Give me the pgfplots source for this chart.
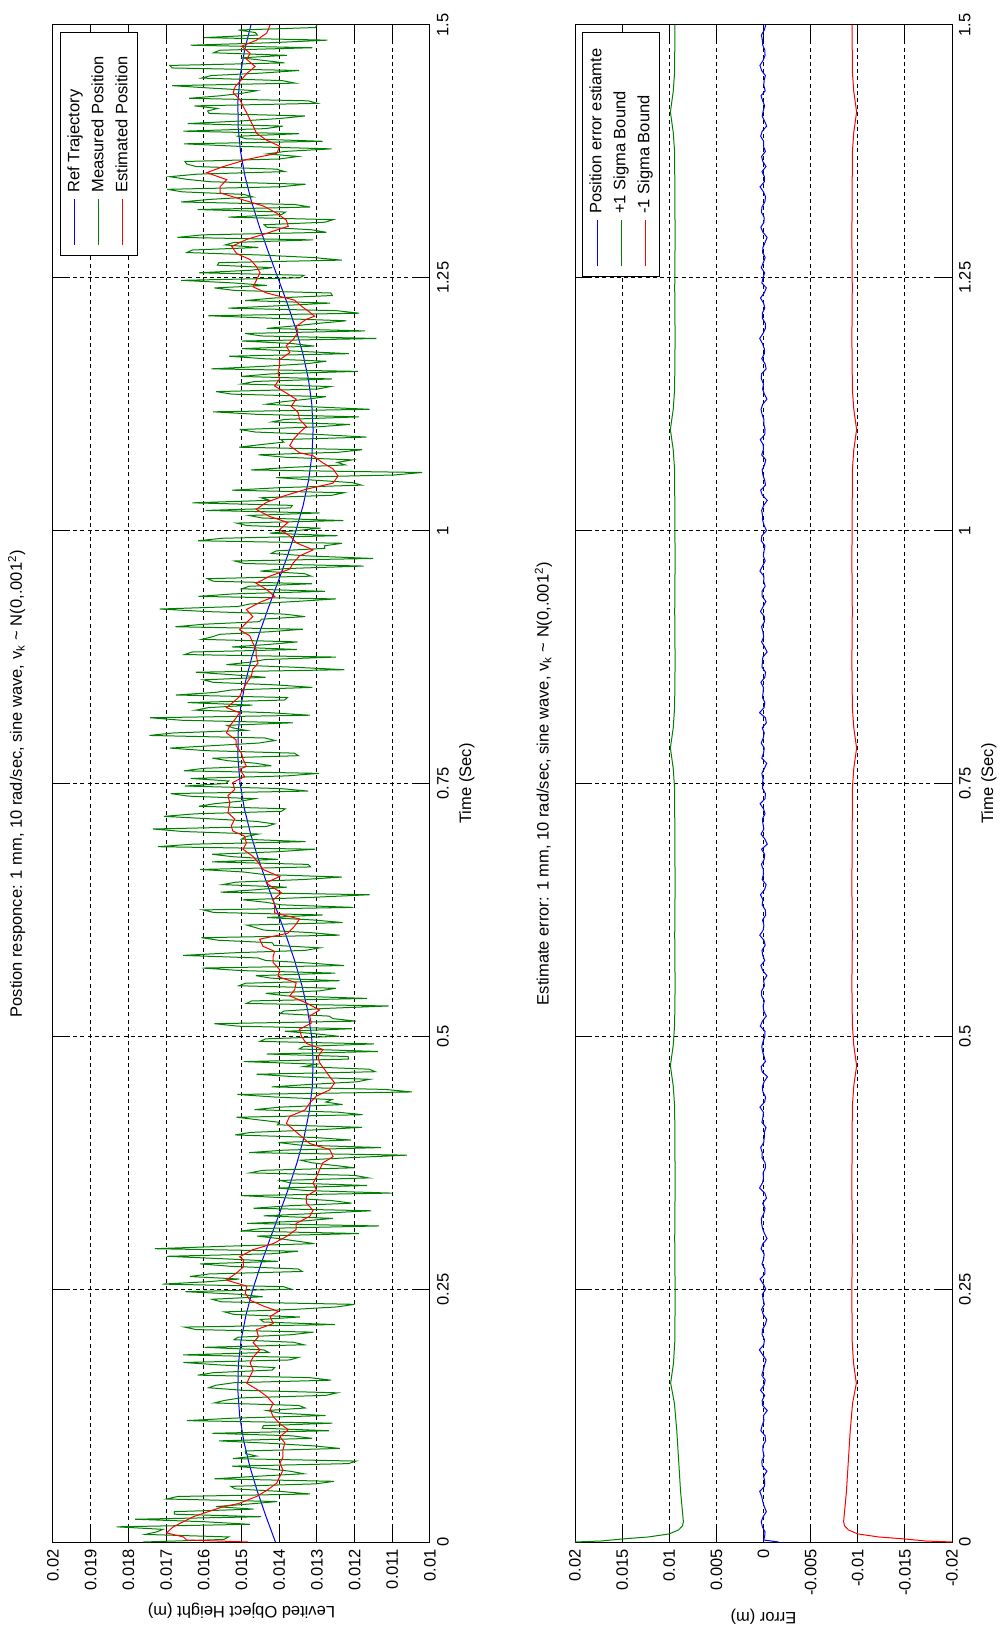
\documentclass[border=0pt]{standalone}
\usepackage{graphicx}
\usepackage{fontspec}
\setmainfont{Liberation Sans}
\usepackage{pgfplots}
\usepackage{pgfplotstable}
\pgfplotsset{compat=1.18}
\definecolor{mgreen}{rgb}{0,0.5,0}
\newcommand{\fs}{\fontsize{8.25}{9.9}\selectfont}
\pgfplotstableread{
t y
0 1760e-5
0.0025 1547e-5
0.005 1534e-5
0.0075 1755e-5
0.010 1725e-5
0.0125 1708e-5
0.015 1831e-5
0.0175 1478e-5
0.020 1595e-5
0.0225 1782e-5
0.025 1448e-5
0.0275 1678e-5
0.030 1678e-5
0.0325 1468e-5
0.035 1568e-5
0.0375 1482e-5
0.040 1405e-5
0.0425 1698e-5
0.045 1670e-5
0.0475 1318e-5
0.050 1396e-5
0.0525 1517e-5
0.055 1528e-5
0.0575 1302e-5
0.060 1255e-5
0.0625 1572e-5
0.065 1458e-5
0.0675 1335e-5
0.070 1371e-5
0.0725 1433e-5
0.075 1525e-5
0.0775 1216e-5
0.080 1196e-5
0.0825 1523e-5
0.085 1460e-5
0.0875 1490e-5
0.090 1490e-5
0.0925 1239e-5
0.095 1307e-5
0.0975 1419e-5
0.100 1560e-5
0.1025 1313e-5
0.105 1366e-5
0.1075 1577e-5
0.110 1268e-5
0.1125 1445e-5
0.115 1442e-5
0.1175 1259e-5
0.120 1645e-5
0.1225 1521e-5
0.125 1277e-5
0.1275 1400e-5
0.130 1433e-5
0.1325 1331e-5
0.135 1348e-5
0.1375 1572e-5
0.140 1545e-5
0.1425 1501e-5
0.145 1276e-5
0.1475 1246e-5
0.150 1495e-5
0.1525 1587e-5
0.155 1568e-5
0.1575 1520e-5
0.160 1262e-5
0.1625 1319e-5
0.165 1616e-5
0.1675 1573e-5
0.170 1419e-5
0.1725 1412e-5
0.175 1555e-5
0.1775 1654e-5
0.180 1372e-5
0.1825 1349e-5
0.185 1655e-5
0.1875 1428e-5
0.190 1441e-5
0.1925 1598e-5
0.195 1334e-5
0.1975 1362e-5
0.200 1520e-5
0.2025 1509e-5
0.205 1367e-5
0.2075 1309e-5
0.210 1620e-5
0.2125 1651e-5
0.215 1252e-5
0.2175 1441e-5
0.220 1450e-5
0.2225 1345e-5
0.225 1520e-5
0.2275 1545e-5
0.230 1360e-5
0.2325 1245e-5
0.235 1200e-5
0.2375 1554e-5
0.240 1578e-5
0.2425 1444e-5
0.245 1509e-5
0.2475 1649e-5
0.250 1368e-5
0.2525 1389e-5
0.255 1710e-5
0.2575 1583e-5
0.260 1506e-5
0.2625 1637e-5
0.265 1587e-5
0.2675 1339e-5
0.270 1350e-5
0.2725 1525e-5
0.275 1610e-5
0.2775 1403e-5
0.280 1545e-5
0.2825 1698e-5
0.285 1420e-5
0.2875 1350e-5
0.290 1730e-5
0.2925 1538e-5
0.295 1306e-5
0.2975 1353e-5
0.300 1400e-5
0.3025 1459e-5
0.305 1188e-5
0.3075 1502e-5
0.310 1445e-5
0.3125 1135e-5
0.315 1485e-5
0.3175 1332e-5
0.320 1258e-5
0.3225 1441e-5
0.325 1294e-5
0.3275 1156e-5
0.330 1468e-5
0.3325 1373e-5
0.335 1208e-5
0.3375 1258e-5
0.340 1368e-5
0.3425 1500e-5
0.345 1102e-5
0.3475 1328e-5
0.350 1403e-5
0.3525 1167e-5
0.355 1370e-5
0.3575 1397e-5
0.360 1163e-5
0.3625 1200e-5
0.365 1477e-5
0.3675 1444e-5
0.370 1200e-5
0.3725 1257e-5
0.375 1314e-5
0.3775 1343e-5
0.380 1212e-5
0.3825 1061e-5
0.385 1480e-5
0.3875 1385e-5
0.390 1130e-5
0.3925 1346e-5
0.395 1402e-5
0.3975 1210e-5
0.400 1308e-5
0.4025 1517e-5
0.405 1475e-5
0.4075 1303e-5
0.410 1180e-5
0.4125 1405e-5
0.415 1400e-5
0.4175 1457e-5
0.420 1513e-5
0.4225 1179e-5
0.425 1245e-5
0.4275 1466e-5
0.430 1397e-5
0.4325 1232e-5
0.435 1276e-5
0.4375 1260e-5
0.440 1413e-5
0.4425 1511e-5
0.445 1048e-5
0.4475 1119e-5
0.450 1420e-5
0.4525 1317e-5
0.455 1194e-5
0.4575 1160e-5
0.460 1355e-5
0.4625 1460e-5
0.465 1145e-5
0.4675 1161e-5
0.470 1336e-5
0.4725 1300e-5
0.475 1494e-5
0.4775 1216e-5
0.480 1217e-5
0.4825 1433e-5
0.485 1138e-5
0.4875 1347e-5
0.490 1335e-5
0.4925 1148e-5
0.495 1451e-5
0.4975 1436e-5
0.500 1241e-5
0.5025 1303e-5
0.505 1385e-5
0.5075 1207e-5
0.510 1508e-5
0.5125 1572e-5
0.515 1196e-5
0.5175 1257e-5
0.520 1268e-5
0.5225 1398e-5
0.525 1388e-5
0.5275 1284e-5
0.530 1110e-5
0.5325 1487e-5
0.535 1473e-5
0.5375 1167e-5
0.540 1380e-5
0.5425 1436e-5
0.545 1292e-5
0.5475 1250e-5
0.550 1507e-5
0.5525 1489e-5
0.555 1240e-5
0.5575 1421e-5
0.560 1462e-5
0.5625 1251e-5
0.565 1500e-5
0.5675 1604e-5
0.570 1228e-5
0.5725 1322e-5
0.575 1436e-5
0.5775 1456e-5
0.580 1655e-5
0.5825 1528e-5
0.585 1330e-5
0.5875 1292e-5
0.590 1414e-5
0.5925 1418e-5
0.595 1561e-5
0.5975 1606e-5
0.600 1240e-5
0.6025 1315e-5
0.605 1440e-5
0.6075 1463e-5
0.610 1486e-5
0.6125 1232e-5
0.615 1308e-5
0.6175 1432e-5
0.620 1285e-5
0.6225 1574e-5
0.625 1602e-5
0.6275 1203e-5
0.630 1393e-5
0.6325 1435e-5
0.635 1496e-5
0.6375 1308e-5
0.640 1160e-5
0.6425 1555e-5
0.645 1460e-5
0.6475 1380e-5
0.650 1550e-5
0.6525 1514e-5
0.655 1338e-5
0.6575 1234e-5
0.660 1440e-5
0.6625 1495e-5
0.665 1610e-5
0.6675 1317e-5
0.670 1323e-5
0.6725 1578e-5
0.675 1403e-5
0.6775 1521e-5
0.680 1578e-5
0.6825 1407e-5
0.685 1305e-5
0.6875 1722e-5
0.690 1629e-5
0.6925 1330e-5
0.695 1500e-5
0.6975 1488e-5
0.700 1455e-5
0.7025 1655e-5
0.705 1735e-5
0.7075 1434e-5
0.710 1412e-5
0.7125 1460e-5
0.715 1578e-5
0.7175 1706e-5
0.720 1623e-5
0.7225 1394e-5
0.725 1384e-5
0.7275 1613e-5
0.730 1571e-5
0.7325 1503e-5
0.735 1464e-5
0.7375 1641e-5
0.740 1688e-5
0.7425 1323e-5
0.745 1398e-5
0.7475 1650e-5
0.750 1542e-5
0.7525 1534e-5
0.755 1635e-5
0.7575 1380e-5
0.760 1295e-5
0.7625 1653e-5
0.765 1600e-5
0.7675 1421e-5
0.770 1462e-5
0.7725 1535e-5
0.775 1577e-5
0.7775 1349e-5
0.780 1360e-5
0.7825 1595e-5
0.785 1690e-5
0.7875 1572e-5
0.790 1454e-5
0.7925 1411e-5
0.795 1438e-5
0.7975 1744e-5
0.800 1680e-5
0.8025 1487e-5
0.805 1523e-5
0.8075 1539e-5
0.810 1364e-5
0.8125 1658e-5
0.815 1742e-5
0.8175 1319e-5
0.820 1425e-5
0.8225 1622e-5
0.825 1588e-5
0.8275 1471e-5
0.830 1643e-5
0.8325 1386e-5
0.835 1378e-5
0.8375 1674e-5
0.840 1570e-5
0.8425 1526e-5
0.845 1312e-5
0.8475 1409e-5
0.850 1575e-5
0.8525 1601e-5
0.855 1436e-5
0.8575 1524e-5
0.860 1621e-5
0.8625 1227e-5
0.865 1362e-5
0.8675 1540e-5
0.870 1477e-5
0.8725 1439e-5
0.875 1250e-5
0.8775 1651e-5
0.880 1631e-5
0.8825 1353e-5
0.885 1525e-5
0.8875 1428e-5
0.890 1351e-5
0.8925 1605e-5
0.895 1578e-5
0.8975 1558e-5
0.900 1428e-5
0.9025 1337e-5
0.905 1675e-5
0.9075 1599e-5
0.910 1452e-5
0.9125 1447e-5
0.915 1331e-5
0.9175 1387e-5
0.920 1593e-5
0.9225 1717e-5
0.925 1510e-5
0.9275 1478e-5
0.930 1355e-5
0.9325 1250e-5
0.935 1614e-5
0.9375 1521e-5
0.940 1278e-5
0.9425 1499e-5
0.945 1480e-5
0.9475 1313e-5
0.950 1575e-5
0.9525 1590e-5
0.955 1315e-5
0.9575 1333e-5
0.960 1450e-5
0.9625 1383e-5
0.965 1176e-5
0.9675 1492e-5
0.970 1518e-5
0.9725 1151e-5
0.975 1324e-5
0.9775 1421e-5
0.980 1408e-5
0.9825 1279e-5
0.985 1280e-5
0.9875 1233e-5
0.990 1615e-5
0.9925 1550e-5
0.995 1245e-5
0.9975 1425e-5
1.000 1355e-5
1.0025 1290e-5
1.005 1485e-5
1.0075 1513e-5
1.010 1230e-5
1.0125 1445e-5
1.015 1480e-5
1.0175 1293e-5
1.020 1595e-5
1.0225 1370e-5
1.025 1365e-5
1.0275 1630e-5
1.030 1425e-5
1.0325 1448e-5
1.035 1260e-5
1.0375 1228e-5
1.040 1525e-5
1.0425 1399e-5
1.045 1182e-5
1.0475 1206e-5
1.050 1310e-5
1.0525 1408e-5
1.055 1096e-5
1.0575 1021e-5
1.060 1475e-5
1.0625 1375e-5
1.065 1225e-5
1.0675 1246e-5
1.070 1206e-5
1.0725 1381e-5
1.075 1455e-5
1.0775 1243e-5
1.080 1180e-5
1.0825 1506e-5
1.085 1451e-5
1.0875 1388e-5
1.090 1395e-5
1.0925 1168e-5
1.095 1290e-5
1.0975 1463e-5
1.100 1505e-5
1.1025 1304e-5
1.105 1212e-5
1.1075 1419e-5
1.110 1386e-5
1.1125 1188e-5
1.115 1459e-5
1.1175 1575e-5
1.120 1160e-5
1.1225 1312e-5
1.125 1434e-5
1.1275 1390e-5
1.130 1326e-5
1.1325 1276e-5
1.135 1526e-5
1.1375 1567e-5
1.140 1298e-5
1.1425 1264e-5
1.145 1500e-5
1.1475 1465e-5
1.150 1260e-5
1.1525 1501e-5
1.155 1422e-5
1.1575 1191e-5
1.160 1580e-5
1.1625 1440e-5
1.165 1329e-5
1.1675 1275e-5
1.170 1440e-5
1.1725 1533e-5
1.175 1215e-5
1.1775 1357e-5
1.180 1498e-5
1.1825 1307e-5
1.185 1365e-5
1.1875 1499e-5
1.190 1142e-5
1.1925 1447e-5
1.195 1491e-5
1.1975 1172e-5
1.200 1433e-5
1.2025 1359e-5
1.205 1295e-5
1.2075 1222e-5
1.210 1418e-5
1.2125 1588e-5
1.215 1188e-5
1.2175 1247e-5
1.220 1535e-5
1.2225 1395e-5
1.225 1265e-5
1.2275 1490e-5
1.230 1415e-5
1.2325 1259e-5
1.235 1263e-5
1.2375 1518e-5
1.240 1572e-5
1.2425 1433e-5
1.245 1524e-5
1.2475 1660e-5
1.250 1345e-5
1.2525 1334e-5
1.255 1612e-5
1.2575 1475e-5
1.260 1418e-5
1.2625 1564e-5
1.265 1560e-5
1.2675 1234e-5
1.270 1308e-5
1.2725 1447e-5
1.275 1645e-5
1.2775 1630e-5
1.280 1455e-5
1.2825 1543e-5
1.285 1520e-5
1.2875 1310e-5
1.290 1670e-5
1.2925 1603e-5
1.295 1275e-5
1.2975 1314e-5
1.300 1432e-5
1.3025 1440e-5
1.305 1278e-5
1.3075 1257e-5
1.310 1535e-5
1.3125 1394e-5
1.315 1383e-5
1.3175 1616e-5
1.320 1318e-5
1.3225 1359e-5
1.325 1660e-5
1.3275 1585e-5
1.330 1470e-5
1.3325 1494e-5
1.335 1657e-5
1.3375 1697e-5
1.340 1397e-5
1.3425 1330e-5
1.345 1583e-5
1.3475 1647e-5
1.350 1690e-5
1.3525 1618e-5
1.355 1385e-5
1.3575 1408e-5
1.360 1620e-5
1.3625 1645e-5
1.365 1650e-5
1.3675 1400e-5
1.370 1350e-5
1.3725 1432e-5
1.375 1384e-5
1.3775 1261e-5
1.380 1508e-5
1.3825 1652e-5
1.385 1285e-5
1.3875 1488e-5
1.390 1510e-5
1.3925 1347e-5
1.395 1654e-5
1.3975 1437e-5
1.400 1390e-5
1.4025 1643e-5
1.405 1506e-5
1.4075 1399e-5
1.410 1332e-5
1.4125 1586e-5
1.415 1590e-5
1.4175 1563e-5
1.420 1625e-5
1.4225 1299e-5
1.425 1322e-5
1.4275 1639e-5
1.430 1556e-5
1.4325 1498e-5
1.435 1460e-5
1.4375 1577e-5
1.440 1684e-5
1.4425 1358e-5
1.445 1392e-5
1.4475 1606e-5
1.450 1580e-5
1.4525 1444e-5
1.455 1347e-5
1.4575 1684e-5
1.460 1690e-5
1.4625 1386e-5
1.465 1442e-5
1.4675 1501e-5
1.470 1380e-5
1.4725 1574e-5
1.475 1558e-5
1.4775 1312e-5
1.480 1635e-5
1.4825 1419e-5
1.485 1272e-5
1.4875 1600e-5
1.490 1458e-5
1.4925 1463e-5
1.495 1508e-5
1.4975 1304e-5
1.500 1300e-5
}\greendata
\pgfplotsset{
  mstyle/.style={
    scale only axis, width=758.5pt, height=188.5pt,
    xmin=0, xmax=1.5,
    xtick={0,0.25,0.5,0.75,1,1.25,1.5},
    xticklabels={0,0.25,0.5,0.75,1,1.25,1.5},
    tick align=inside, xtick pos=both, ytick pos=both,
    major tick length=7.5pt,
    tick style={black, line width=0.5pt},
    axis line style={black, line width=0.5pt},
    grid=major,
    major grid style={black, line width=0.5pt, dash pattern=on 2pt off 1.6pt},
    scaled x ticks=false, scaled y ticks=false,
    tick label style={font=\fs},
    label style={font=\fs},
    title style={font=\fs, anchor=base},
    xlabel style={at={(axis description cs:0.5,-0.1088)}, anchor=base},
    legend style={font=\fs, at={(axis description cs:1,1)}, anchor=north east, xshift=-3.6pt, yshift=-3.5pt, draw=black, line width=0.5pt, fill=white, inner xsep=5pt, inner ysep=1.25pt, row sep=0pt, nodes={inner xsep=3pt, inner ysep=2pt, text height=6.2pt, text depth=1.8pt}},
    legend cell align=left,
    legend image code/.code={\draw[#1, line width=0.5pt] (0pt,0pt) -- (23pt,0pt);},
    every axis plot/.append style={line width=0.5pt},
  }
}
\begin{document}
\rotatebox{90}{%
\begin{tikzpicture}
\useasboundingbox (0,0) rectangle (818.5pt,502.5pt);
\begin{axis}[mstyle, at={(47.5pt,287.5pt)}, anchor=south west,
  ymin=0.01, ymax=0.02,
  ytick={0.01,0.011,0.012,0.013,0.014,0.015,0.016,0.017,0.018,0.019,0.02},
  yticklabels={0.01,0.011,0.012,0.013,0.014,0.015,0.016,0.017,0.018,0.019,0.02},
  title={Postion responce: 1 mm, 10 rad/sec, sine wave, v\textsubscript{k} \textasciitilde{} N(0,.001\textsuperscript{2})},
  title style={at={(axis description cs:0.5,1.0509)}},
  xlabel={Time (Sec)},
  ylabel={Levited Object Height (m)},
  ylabel style={at={(axis description cs:-0.0422,0.5)}, anchor=base},
]
\addplot[blue] coordinates {(0,0.014100)(0.025,0.014347)(0.05,0.014579)(0.075,0.014782)(0.1,0.014941)(0.125,0.015049)(0.15,0.015097)(0.175,0.015084)(0.2,0.015009)(0.225,0.014878)(0.25,0.014698)(0.275,0.014482)(0.3,0.014241)(0.325,0.013992)(0.35,0.013749)(0.375,0.013528)(0.4,0.013343)(0.425,0.013205)(0.45,0.013122)(0.475,0.013101)(0.5,0.013141)(0.525,0.013241)(0.55,0.013395)(0.575,0.013592)(0.6,0.013821)(0.625,0.014067)(0.65,0.014315)(0.675,0.014550)(0.7,0.014757)(0.725,0.014923)(0.75,0.015038)(0.775,0.015095)(0.8,0.015089)(0.825,0.015023)(0.85,0.014899)(0.875,0.014725)(0.9,0.014512)(0.925,0.014274)(0.95,0.014025)(0.975,0.013781)(1.0,0.013556)(1.025,0.013365)(1.05,0.013220)(1.075,0.013130)(1.1,0.013100)(1.125,0.013135)(1.15,0.013225)(1.175,0.013371)(1.2,0.013563)(1.225,0.013789)(1.25,0.014034)(1.275,0.014283)(1.3,0.014520)(1.325,0.014732)(1.35,0.014904)(1.375,0.015026)(1.4,0.015091)(1.425,0.015094)(1.45,0.015035)(1.475,0.014918)(1.5,0.014750)};
\addlegendentry{Ref Trajectory}
\addplot[mgreen] table[x=t, y=y] {\greendata};
\addlegendentry{Measured Position}
\addplot[red] coordinates {(0,0.01483)(0.002,0.01646)(0.005,0.01654)(0.009,0.01699)(0.015,0.01681)(0.025,0.01628)(0.035,0.01548)(0.038,0.01508)(0.045,0.01460)(0.051,0.01433)(0.058,0.01407)(0.065,0.01398)(0.071,0.01390)(0.078,0.01398)(0.084,0.01390)(0.091,0.01390)(0.098,0.01385)(0.104,0.01398)(0.111,0.01376)(0.117,0.01398)(0.124,0.01416)(0.131,0.01424)(0.137,0.01416)(0.144,0.01433)(0.150,0.01455)(0.157,0.01486)(0.164,0.01477)(0.170,0.01469)(0.177,0.01477)(0.183,0.01469)(0.190,0.01451)(0.197,0.01469)(0.203,0.01455)(0.210,0.01460)(0.216,0.01416)(0.223,0.01424)(0.228,0.01402)(0.233,0.01440)(0.239,0.01477)(0.246,0.01490)(0.253,0.01486)(0.259,0.01540)(0.266,0.01513)(0.272,0.01495)(0.279,0.01495)(0.282,0.01505)(0.289,0.01470)(0.295,0.01416)(0.302,0.01381)(0.309,0.01355)(0.315,0.01355)(0.322,0.01319)(0.328,0.01310)(0.335,0.01328)(0.342,0.01328)(0.348,0.01301)(0.355,0.01310)(0.361,0.01301)(0.368,0.01293)(0.375,0.01284)(0.381,0.01257)(0.388,0.01266)(0.394,0.01319)(0.401,0.01341)(0.408,0.01363)(0.414,0.01381)(0.421,0.01372)(0.427,0.01332)(0.434,0.01319)(0.441,0.01301)(0.447,0.01266)(0.454,0.01253)(0.460,0.01266)(0.467,0.01279)(0.474,0.01293)(0.480,0.01297)(0.487,0.01284)(0.493,0.01328)(0.500,0.01341)(0.507,0.01346)(0.513,0.01315)(0.520,0.01319)(0.526,0.01293)(0.533,0.01328)(0.540,0.01372)(0.546,0.01359)(0.553,0.01355)(0.559,0.01403)(0.566,0.01399)(0.573,0.01416)(0.579,0.01416)(0.584,0.01412)(0.589,0.01443)(0.596,0.01452)(0.602,0.01377)(0.609,0.01359)(0.616,0.01346)(0.622,0.01412)(0.629,0.01412)(0.635,0.01416)(0.642,0.01394)(0.649,0.01425)(0.652,0.01434)(0.658,0.01399)(0.665,0.01443)(0.672,0.01456)(0.678,0.01470)(0.685,0.01496)(0.691,0.01487)(0.698,0.01492)(0.703,0.01523)(0.708,0.01527)(0.715,0.01518)(0.721,0.01536)(0.731,0.01531)(0.738,0.01536)(0.744,0.01518)(0.751,0.01523)(0.757,0.01492)(0.764,0.01505)(0.767,0.01487)(0.774,0.01496)(0.780,0.01500)(0.787,0.01514)(0.793,0.01514)(0.800,0.01540)(0.807,0.01531)(0.813,0.01518)(0.820,0.01505)(0.825,0.01540)(0.830,0.01523)(0.836,0.01505)(0.843,0.01496)(0.849,0.01487)(0.856,0.01474)(0.863,0.01470)(0.869,0.01456)(0.876,0.01461)(0.882,0.01461)(0.889,0.01470)(0.896,0.01478)(0.902,0.01505)(0.909,0.01487)(0.915,0.01470)(0.922,0.01487)(0.929,0.01452)(0.935,0.01412)(0.942,0.01434)(0.948,0.01461)(0.955,0.01425)(0.962,0.01372)(0.968,0.01363)(0.975,0.01346)(0.981,0.01310)(0.988,0.01355)(0.995,0.01372)(1.001,0.01399)(1.008,0.01377)(1.014,0.01425)(1.021,0.01461)(1.028,0.01434)(1.034,0.01390)(1.041,0.01328)(1.047,0.01257)(1.054,0.01244)(1.061,0.01257)(1.067,0.01284)(1.074,0.01310)(1.077,0.01346)(1.084,0.01372)(1.090,0.01363)(1.097,0.01346)(1.103,0.01328)(1.110,0.01346)(1.117,0.01350)(1.123,0.01368)(1.130,0.01355)(1.136,0.01381)(1.143,0.01412)(1.150,0.01399)(1.156,0.01403)(1.163,0.01399)(1.169,0.01399)(1.176,0.01372)(1.183,0.01381)(1.189,0.01363)(1.196,0.01350)(1.202,0.01355)(1.209,0.01328)(1.212,0.01306)(1.216,0.01319)(1.222,0.01341)(1.228,0.01360)(1.235,0.01433)(1.241,0.01469)(1.248,0.01460)(1.255,0.01451)(1.261,0.01460)(1.268,0.01477)(1.274,0.01513)(1.281,0.01526)(1.288,0.01486)(1.294,0.01433)(1.301,0.01376)(1.307,0.01381)(1.314,0.01407)(1.321,0.01442)(1.327,0.01495)(1.334,0.01557)(1.340,0.01557)(1.347,0.01539)(1.354,0.01592)(1.360,0.01548)(1.367,0.01486)(1.373,0.01407)(1.380,0.01398)(1.386,0.01433)(1.393,0.01460)(1.400,0.01469)(1.406,0.01477)(1.413,0.01486)(1.419,0.01495)(1.426,0.01504)(1.433,0.01522)(1.439,0.01517)(1.446,0.01500)(1.452,0.01486)(1.459,0.01464)(1.466,0.01486)(1.472,0.01477)(1.479,0.01500)(1.485,0.01460)(1.492,0.01433)(1.500,0.01424)};
\addlegendentry{\makebox[72pt][l]{Estimated Position}}
\end{axis}
\begin{axis}[mstyle, at={(47.5pt,26.5pt)}, anchor=south west,
  ymin=-0.02, ymax=0.02,
  ytick={-0.02,-0.015,-0.01,-0.005,0,0.005,0.01,0.015,0.02},
  yticklabels={-0.02,-0.015,-0.01,-0.005,0,0.005,0.01,0.015,0.02},
  title={Estimate error: 1 mm, 10 rad/sec, sine wave, v\textsubscript{k} \textasciitilde{} N(0,.001\textsuperscript{2})},
  title style={at={(axis description cs:0.5,1.0382)}},
  xlabel={Time (Sec)},
  ylabel={Error (m)},
  ylabel style={at={(axis description cs:-0.0468,0.5)}, anchor=base},
]
\addplot[blue] coordinates {(0,-160e-5)(0.002,0)(0.005,-12e-5)(0.01,-16e-5)(0.015,11e-5)(0.02,24e-5)(0.025,4e-5)(0.03,-30e-5)(0.035,-8e-5)(0.04,8e-5)(0.045,19e-5)(0.05,40e-5)(0.055,-10e-5)(0.06,-12e-5)(0.065,-2e-5)(0.07,-36e-5)(0.075,13e-5)(0.08,18e-5)(0.085,-6e-5)(0.09,6e-5)(0.095,7e-5)(0.10,-22e-5)
(0.105,-17e-5)(0.11,28e-5)(0.115,15e-5)(0.12,-4e-5)(0.125,0)(0.13,-40e-5)(0.135,10e-5)(0.14,14e-5)(0.145,-13e-5)(0.15,32e-5)(0.155,-5e-5)(0.16,-18e-5)(0.165,18e-5)(0.17,2e-5)(0.175,-11e-5)(0.18,-28e-5)(0.185,8e-5)(0.19,44e-5)(0.195,-3e-5)(0.20,-10e-5)
(0.205,14e-5)(0.21,12e-5)(0.215,-19e-5)(0.22,-34e-5)(0.225,3e-5)(0.23,20e-5)(0.235,-9e-5)(0.24,4e-5)(0.245,12e-5)(0.25,-24e-5)(0.255,2e-5)(0.26,36e-5)(0.265,-15e-5)(0.27,-14e-5)(0.275,16e-5)(0.28,-2e-5)(0.285,-7e-5)(0.29,26e-5)(0.295,6e-5)(0.30,-38e-5)
(0.305,-10e-5)(0.31,10e-5)(0.315,20e-5)(0.32,22e-5)(0.325,-4e-5)(0.33,-16e-5)(0.335,9e-5)(0.34,-32e-5)(0.345,-14e-5)(0.35,42e-5)(0.355,11e-5)(0.36,0)(0.365,5e-5)(0.37,-20e-5)(0.375,-18e-5)(0.38,16e-5)(0.385,13e-5)(0.39,30e-5)(0.395,-2e-5)(0.40,-8e-5)
(0.405,-8e-5)(0.41,-26e-5)(0.415,17e-5)(0.42,6e-5)(0.425,1e-5)(0.43,38e-5)(0.435,-12e-5)(0.44,-22e-5)(0.445,7e-5)(0.45,12e-5)(0.455,-6e-5)(0.46,-42e-5)(0.465,15e-5)(0.47,24e-5)(0.475,-20e-5)(0.48,-6e-5)(0.485,10e-5)(0.49,18e-5)(0.495,4e-5)(0.50,-14e-5)
(0.505,-16e-5)(0.51,34e-5)(0.515,12e-5)(0.52,-30e-5)(0.525,-3e-5)(0.53,4e-5)(0.535,-9e-5)(0.54,20e-5)(0.545,19e-5)(0.55,-10e-5)(0.555,-1e-5)(0.56,-36e-5)(0.565,8e-5)(0.57,28e-5)(0.575,-13e-5)(0.58,8e-5)(0.585,16e-5)(0.59,-18e-5)(0.595,-5e-5)(0.60,40e-5)
(0.605,3e-5)(0.61,-4e-5)(0.615,10e-5)(0.62,-24e-5)(0.625,-19e-5)(0.63,14e-5)(0.635,6e-5)(0.64,32e-5)(0.645,-11e-5)(0.65,-28e-5)(0.655,14e-5)(0.66,2e-5)(0.665,2e-5)(0.67,22e-5)(0.675,-7e-5)(0.68,-12e-5)(0.685,21e-5)(0.69,-40e-5)(0.695,-15e-5)(0.70,26e-5)
(0.705,-4e-5)(0.71,6e-5)(0.715,12e-5)(0.72,-16e-5)(0.725,0)(0.73,36e-5)(0.735,-17e-5)(0.74,-20e-5)(0.745,9e-5)(0.75,10e-5)(0.755,5e-5)(0.76,18e-5)(0.765,-10e-5)(0.77,-34e-5)(0.775,18e-5)(0.78,0)(0.785,-8e-5)(0.79,24e-5)(0.795,3e-5)(0.80,-8e-5)
(0.805,13e-5)(0.81,-30e-5)(0.815,-20e-5)(0.82,42e-5)(0.825,-6e-5)(0.83,-14e-5)(0.835,11e-5)(0.84,4e-5)(0.845,1e-5)(0.85,28e-5)(0.855,-14e-5)(0.86,-22e-5)(0.865,16e-5)(0.87,12e-5)(0.875,7e-5)(0.88,-38e-5)(0.885,-12e-5)(0.89,20e-5)(0.895,-2e-5)(0.90,6e-5)
(0.905,20e-5)(0.91,-10e-5)(0.915,-9e-5)(0.92,32e-5)(0.925,4e-5)(0.93,-26e-5)(0.935,14e-5)(0.94,16e-5)(0.945,-18e-5)(0.95,-2e-5)(0.955,-5e-5)(0.96,38e-5)(0.965,10e-5)(0.97,-18e-5)(0.975,2e-5)(0.98,-6e-5)(0.985,-15e-5)(0.99,24e-5)(0.995,17e-5)(1.00,-32e-5)
(1.005,-7e-5)(1.01,8e-5)(1.015,9e-5)(1.02,20e-5)(1.025,-3e-5)(1.03,-40e-5)(1.035,12e-5)(1.04,30e-5)(1.045,-21e-5)(1.05,-12e-5)(1.055,6e-5)(1.06,14e-5)(1.065,-11e-5)(1.07,-24e-5)(1.075,19e-5)(1.08,2e-5)(1.085,3e-5)(1.09,34e-5)(1.095,-13e-5)(1.10,-16e-5)
(1.105,-4e-5)(1.11,-4e-5)(1.115,15e-5)(1.12,26e-5)(1.125,8e-5)(1.13,-36e-5)(1.135,-10e-5)(1.14,10e-5)(1.145,0)(1.15,22e-5)(1.155,21e-5)(1.16,-28e-5)(1.165,-16e-5)(1.17,18e-5)(1.175,-8e-5)(1.18,-8e-5)(1.185,11e-5)(1.19,40e-5)(1.195,5e-5)(1.20,-20e-5)
(1.205,-19e-5)(1.21,12e-5)(1.215,13e-5)(1.22,-14e-5)(1.225,-1e-5)(1.23,32e-5)(1.235,-7e-5)(1.24,-30e-5)(1.245,18e-5)(1.25,4e-5)(1.255,-12e-5)(1.26,24e-5)(1.265,2e-5)(1.27,-18e-5)(1.275,10e-5)(1.28,6e-5)(1.285,-17e-5)(1.29,-38e-5)(1.295,6e-5)(1.30,28e-5)
(1.305,-5e-5)(1.31,-6e-5)(1.315,22e-5)(1.32,16e-5)(1.325,-14e-5)(1.33,-22e-5)(1.335,1e-5)(1.34,36e-5)(1.345,-9e-5)(1.35,-10e-5)(1.355,16e-5)(1.36,-26e-5)(1.365,7e-5)(1.37,20e-5)(1.375,-20e-5)(1.38,0)(1.385,-2e-5)(1.39,30e-5)(1.395,14e-5)(1.40,-34e-5)
(1.405,-11e-5)(1.41,14e-5)(1.415,3e-5)(1.42,-12e-5)(1.425,9e-5)(1.43,26e-5)(1.435,-18e-5)(1.44,-4e-5)(1.445,-6e-5)(1.45,-20e-5)(1.455,20e-5)(1.46,38e-5)(1.465,4e-5)(1.47,-16e-5)(1.475,-15e-5)(1.48,8e-5)(1.485,12e-5)(1.49,22e-5)(1.495,-8e-5)(1.50,-24e-5)};
\addlegendentry{Position error estiamte}
\addplot[mgreen] coordinates {(0,0.0200)(0.001,0.0172)(0.003,0.0150)(0.005,0.0122)(0.008,0.0100)(0.012,0.0090)(0.016,0.0086)(0.020,0.0085)(0.030,0.0086)(0.050,0.0088)(0.080,0.0090)(0.110,0.0092)(0.137,0.00945)(0.157,0.00985)(0.177,0.00955)(0.20,0.00940)(0.25,0.00938)(0.30,0.00942)(0.35,0.00938)(0.40,0.00940)(0.431,0.00943)(0.451,0.00958)(0.471,0.00988)(0.491,0.00958)(0.511,0.00943)(0.55,0.00938)(0.60,0.00942)(0.65,0.00938)(0.70,0.00941)(0.745,0.00943)(0.765,0.00958)(0.785,0.00988)(0.805,0.00958)(0.825,0.00943)(0.87,0.00938)(0.92,0.00942)(0.97,0.00938)(1.02,0.00941)(1.06,0.00943)(1.08,0.00958)(1.10,0.00988)(1.12,0.00958)(1.14,0.00943)(1.19,0.00938)(1.24,0.00942)(1.29,0.00938)(1.34,0.00941)(1.374,0.00943)(1.394,0.00958)(1.414,0.00988)(1.434,0.00958)(1.454,0.00943)(1.5,0.00940)};
\addlegendentry{+1 Sigma Bound}
\addplot[red] coordinates {(0,-0.0200)(0.001,-0.0172)(0.003,-0.0150)(0.005,-0.0122)(0.008,-0.0100)(0.012,-0.0090)(0.016,-0.0086)(0.020,-0.0085)(0.030,-0.0086)(0.050,-0.0088)(0.080,-0.0090)(0.110,-0.0092)(0.137,-0.00945)(0.157,-0.00985)(0.177,-0.00955)(0.20,-0.00940)(0.25,-0.00938)(0.30,-0.00942)(0.35,-0.00938)(0.40,-0.00940)(0.431,-0.00943)(0.451,-0.00958)(0.471,-0.00988)(0.491,-0.00958)(0.511,-0.00943)(0.55,-0.00938)(0.60,-0.00942)(0.65,-0.00938)(0.70,-0.00941)(0.745,-0.00943)(0.765,-0.00958)(0.785,-0.00988)(0.805,-0.00958)(0.825,-0.00943)(0.87,-0.00938)(0.92,-0.00942)(0.97,-0.00938)(1.02,-0.00941)(1.06,-0.00943)(1.08,-0.00958)(1.10,-0.00988)(1.12,-0.00958)(1.14,-0.00943)(1.19,-0.00938)(1.24,-0.00942)(1.29,-0.00938)(1.34,-0.00941)(1.374,-0.00943)(1.394,-0.00958)(1.414,-0.00988)(1.434,-0.00958)(1.454,-0.00943)(1.5,-0.00940)};
\addlegendentry{-1 Sigma Bound}
\end{axis}
\end{tikzpicture}}
\end{document}
